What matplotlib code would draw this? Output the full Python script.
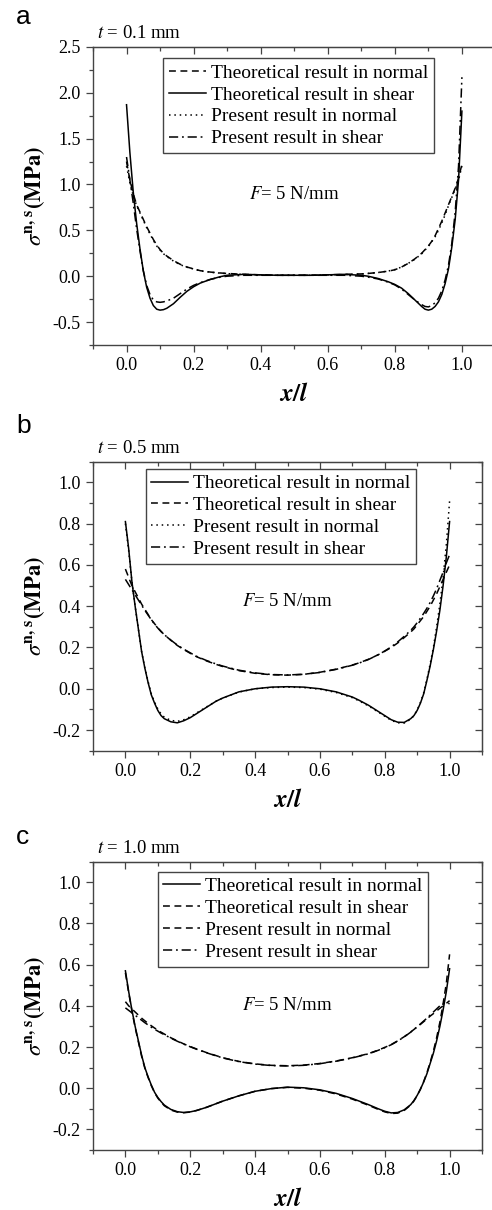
import matplotlib
matplotlib.use("Agg")
import matplotlib.pyplot as plt
from matplotlib.ticker import MultipleLocator

plt.rcParams['font.family'] = ['Liberation Serif', 'DejaVu Serif']
plt.rcParams['mathtext.fontset'] = 'stix'

# ---------------- data ----------------
x = [0.00, 0.01, 0.02, 0.03, 0.04, 0.05, 0.06, 0.07, 0.08, 0.09, 0.10, 0.11, 0.12,
     0.14, 0.16, 0.18, 0.20, 0.22, 0.25, 0.28, 0.30, 0.35, 0.40, 0.45, 0.50, 0.55,
     0.60, 0.65, 0.70, 0.72, 0.75, 0.78, 0.80, 0.82, 0.84, 0.86, 0.88, 0.89, 0.90,
     0.91, 0.92, 0.93, 0.94, 0.95, 0.96, 0.97, 0.98, 0.99, 1.00]

# Panel a (t = 0.1 mm)
a_theo_normal = [1.25, 1.05, 0.90, 0.78, 0.70, 0.62, 0.54, 0.47, 0.40, 0.34, 0.29, 0.25, 0.22,
                 0.17, 0.13, 0.10, 0.08, 0.06, 0.045, 0.035, 0.03, 0.02, 0.015, 0.01, 0.01, 0.01,
                 0.015, 0.02, 0.025, 0.03, 0.04, 0.055, 0.07, 0.10, 0.14, 0.19, 0.25, 0.29, 0.33,
                 0.38, 0.44, 0.52, 0.60, 0.69, 0.78, 0.87, 0.96, 1.07, 1.22]
a_theo_shear = [1.87, 1.35, 0.92, 0.58, 0.30, 0.06, -0.12, -0.24, -0.32, -0.36, -0.37, -0.365, -0.35,
                -0.30, -0.23, -0.165, -0.115, -0.075, -0.035, -0.005, 0.01, 0.02, 0.015, 0.01, 0.01, 0.01,
                0.015, 0.02, 0.01, 0.0, -0.025, -0.06, -0.09, -0.13, -0.19, -0.26, -0.33, -0.36, -0.37,
                -0.36, -0.33, -0.28, -0.20, -0.08, 0.08, 0.32, 0.62, 1.05, 1.80]
a_pres_normal = [1.20, 1.02, 0.88, 0.77, 0.69, 0.61, 0.53, 0.46, 0.39, 0.33, 0.285, 0.245, 0.215,
                 0.165, 0.125, 0.098, 0.078, 0.058, 0.043, 0.033, 0.028, 0.018, 0.013, 0.01, 0.01, 0.01,
                 0.013, 0.018, 0.024, 0.03, 0.04, 0.056, 0.072, 0.10, 0.14, 0.185, 0.245, 0.285, 0.325,
                 0.375, 0.43, 0.50, 0.58, 0.67, 0.77, 0.86, 0.95, 1.05, 1.20]
a_pres_shear = [1.30, 1.05, 0.80, 0.52, 0.28, 0.06, -0.10, -0.20, -0.26, -0.28, -0.285, -0.28, -0.27,
                -0.24, -0.19, -0.14, -0.10, -0.07, -0.035, -0.01, 0.0, 0.01, 0.01, 0.01, 0.01, 0.01,
                0.01, 0.01, 0.0, -0.01, -0.03, -0.065, -0.095, -0.14, -0.20, -0.26, -0.31, -0.33, -0.335,
                -0.32, -0.29, -0.24, -0.16, -0.04, 0.12, 0.36, 0.70, 1.20, 2.17]

# Panel b (t = 0.5 mm)
b_theo_normal = [0.81, 0.68, 0.52, 0.40, 0.29, 0.18, 0.10, 0.03, -0.03, -0.07, -0.105, -0.13, -0.145,
                 -0.16, -0.165, -0.155, -0.14, -0.12, -0.09, -0.06, -0.045, -0.015, 0.0, 0.008, 0.01, 0.008,
                 0.0, -0.015, -0.04, -0.055, -0.08, -0.11, -0.13, -0.15, -0.162, -0.163, -0.145, -0.13, -0.105,
                 -0.07, -0.025, 0.04, 0.11, 0.19, 0.28, 0.38, 0.50, 0.64, 0.81]
b_theo_shear = [0.58, 0.54, 0.50, 0.47, 0.44, 0.41, 0.385, 0.36, 0.335, 0.315, 0.295, 0.278, 0.262,
                0.235, 0.21, 0.19, 0.172, 0.155, 0.135, 0.118, 0.108, 0.088, 0.075, 0.068, 0.066, 0.07,
                0.08, 0.095, 0.115, 0.125, 0.143, 0.165, 0.182, 0.20, 0.222, 0.248, 0.275, 0.29, 0.31,
                0.33, 0.35, 0.375, 0.40, 0.43, 0.46, 0.495, 0.53, 0.565, 0.60]
b_pres_normal = [0.80, 0.67, 0.52, 0.40, 0.29, 0.18, 0.10, 0.035, -0.025, -0.065, -0.098, -0.122, -0.138,
                 -0.153, -0.158, -0.15, -0.136, -0.117, -0.088, -0.06, -0.045, -0.016, 0.0, 0.006, 0.008, 0.006,
                 -0.002, -0.018, -0.043, -0.058, -0.083, -0.113, -0.133, -0.153, -0.165, -0.166, -0.148, -0.13, -0.103,
                 -0.066, -0.02, 0.045, 0.12, 0.20, 0.30, 0.41, 0.54, 0.70, 0.91]
b_pres_shear = [0.53, 0.505, 0.48, 0.455, 0.43, 0.405, 0.38, 0.357, 0.334, 0.313, 0.294, 0.277, 0.262,
                0.236, 0.212, 0.192, 0.174, 0.157, 0.137, 0.12, 0.11, 0.09, 0.077, 0.069, 0.067, 0.07,
                0.079, 0.094, 0.114, 0.124, 0.142, 0.165, 0.183, 0.203, 0.227, 0.254, 0.283, 0.30, 0.32,
                0.342, 0.365, 0.39, 0.418, 0.45, 0.485, 0.525, 0.565, 0.61, 0.65]

# Panel c (t = 1.0 mm)
c_theo_normal = [0.57, 0.47, 0.38, 0.30, 0.23, 0.16, 0.10, 0.055, 0.015, -0.02, -0.045, -0.065, -0.082,
                 -0.103, -0.114, -0.118, -0.115, -0.108, -0.093, -0.075, -0.063, -0.037, -0.015, -0.002, 0.005, 0.002,
                 -0.008, -0.025, -0.05, -0.062, -0.08, -0.10, -0.112, -0.12, -0.118, -0.105, -0.08, -0.06, -0.035,
                 -0.005, 0.03, 0.07, 0.12, 0.17, 0.23, 0.30, 0.38, 0.47, 0.58]
c_theo_shear = [0.42, 0.40, 0.385, 0.37, 0.355, 0.34, 0.327, 0.315, 0.303, 0.292, 0.282, 0.272, 0.263,
                0.245, 0.23, 0.215, 0.202, 0.19, 0.173, 0.158, 0.148, 0.13, 0.118, 0.111, 0.109, 0.112,
                0.12, 0.132, 0.148, 0.156, 0.168, 0.185, 0.198, 0.212, 0.23, 0.25, 0.273, 0.285, 0.298,
                0.31, 0.323, 0.336, 0.35, 0.362, 0.375, 0.388, 0.40, 0.412, 0.425]
c_pres_normal = [0.56, 0.465, 0.375, 0.295, 0.225, 0.155, 0.097, 0.052, 0.012, -0.022, -0.048, -0.068, -0.085,
                 -0.106, -0.116, -0.119, -0.116, -0.108, -0.093, -0.075, -0.063, -0.037, -0.015, -0.002, 0.004, 0.0,
                 -0.01, -0.028, -0.053, -0.065, -0.083, -0.103, -0.115, -0.123, -0.121, -0.108, -0.082, -0.062, -0.036,
                 -0.005, 0.032, 0.075, 0.125, 0.18, 0.245, 0.32, 0.41, 0.51, 0.65]
c_pres_shear = [0.39, 0.378, 0.366, 0.354, 0.342, 0.33, 0.318, 0.307, 0.296, 0.286, 0.277, 0.268, 0.26,
                0.243, 0.228, 0.214, 0.201, 0.189, 0.172, 0.157, 0.147, 0.129, 0.117, 0.11, 0.108, 0.111,
                0.119, 0.131, 0.147, 0.155, 0.167, 0.184, 0.197, 0.211, 0.229, 0.249, 0.272, 0.285, 0.298,
                0.312, 0.326, 0.34, 0.355, 0.37, 0.385, 0.40, 0.41, 0.415, 0.41]

labels_theo_normal = "Theoretical result in normal"
labels_theo_shear = "Theoretical result in shear"
labels_pres_normal = "Present result in normal"
labels_pres_shear = "Present result in shear"

xticks = [0.0, 0.2, 0.4, 0.6, 0.8, 1.0]

# ---------------- styles ----------------
SOLID = '-'
DASH = (0, (4.5, 3))
DOT = (0, (1, 2.5))
DASHDOT = (0, (6, 2.5, 1.2, 2.5))
LW = 1.1
COL = 'black'
SPINE = '#444444'

fig = plt.figure(figsize=(4.92, 12.10), dpi=100)

panels = [
    dict(rect=[0.189, 0.7149, 0.818, 0.2463], letter='a', lety=17, t='0.1', right=False,
         ylim=(-0.75, 2.5), ymin=0.25, yticks=[-0.5, 0.0, 0.5, 1.0, 1.5, 2.0, 2.5],
         series=[(a_theo_normal, DASH, labels_theo_normal),
                 (a_theo_shear, SOLID, labels_theo_shear),
                 (a_pres_normal, DOT, labels_pres_normal),
                 (a_pres_shear, DASHDOT, labels_pres_shear)],
         leg=(0.174, 0.962), ftext=(0.5, 0.89)),
    dict(rect=[0.189, 0.3796, 0.7907, 0.2388], letter='b', lety=426, t='0.5', right=True,
         ylim=(-0.3, 1.1), ymin=0.1, yticks=[-0.2, 0.0, 0.2, 0.4, 0.6, 0.8, 1.0],
         series=[(b_theo_normal, SOLID, labels_theo_normal),
                 (b_theo_shear, DASH, labels_theo_shear),
                 (b_pres_normal, DOT, labels_pres_normal),
                 (b_pres_shear, DASHDOT, labels_pres_shear)],
         leg=(0.135, 0.975), ftext=(0.5, 0.424)),
    dict(rect=[0.189, 0.0496, 0.7907, 0.2383], letter='c', lety=837, t='1.0', right=True,
         ylim=(-0.3, 1.1), ymin=0.1, yticks=[-0.2, 0.0, 0.2, 0.4, 0.6, 0.8, 1.0],
         series=[(c_theo_normal, SOLID, labels_theo_normal),
                 (c_theo_shear, DASH, labels_theo_shear),
                 (c_pres_normal, DASH, labels_pres_normal),
                 (c_pres_shear, DASHDOT, labels_pres_shear)],
         leg=(0.166, 0.965), ftext=(0.5, 0.40)),
]

for p in panels:
    ax = fig.add_axes(p['rect'])
    for vals, ls, lab in p['series']:
        ax.plot(x, vals, linestyle=ls, color=COL, lw=LW, label=lab)
    ax.set_xlim(-0.1, 1.1)
    ax.set_ylim(*p['ylim'])
    ax.set_xticks(xticks)
    ax.xaxis.set_minor_locator(MultipleLocator(0.1))
    ax.set_yticks(p['yticks'])
    ax.yaxis.set_minor_locator(MultipleLocator(p['ymin']))
    ax.set_xticklabels([f"{v:.1f}" for v in xticks])
    ax.set_yticklabels([f"{v:.1f}" for v in p['yticks']])
    for s in ax.spines.values():
        s.set_color(SPINE)
        s.set_linewidth(1.0)
    ax.tick_params(which='major', direction='out', length=5, width=0.9, color=SPINE,
                   labelsize=13, pad=4)
    ax.tick_params(which='minor', direction='out', length=3, width=0.9, color=SPINE)

    sx = ax.secondary_xaxis('top')
    sx.set_xticks(xticks)
    sx.xaxis.set_minor_locator(MultipleLocator(0.1))
    sx.tick_params(which='major', direction='in', length=5, width=0.9, color=SPINE, labeltop=False)
    sx.tick_params(which='minor', direction='in', length=3, width=0.9, color=SPINE)
    sx.spines['top'].set_color(SPINE)
    if p['right']:
        sy = ax.secondary_yaxis('right')
        sy.set_yticks(p['yticks'])
        sy.yaxis.set_minor_locator(MultipleLocator(p['ymin']))
        sy.tick_params(which='major', direction='in', length=5, width=0.9, color=SPINE, labelright=False)
        sy.tick_params(which='minor', direction='in', length=3, width=0.9, color=SPINE)
        sy.spines['right'].set_color(SPINE)
    else:
        ax.spines['right'].set_visible(False)

    leg = ax.legend(loc='upper left', bbox_to_anchor=p['leg'], fontsize=14,
                    frameon=True, fancybox=False, edgecolor=SPINE, framealpha=1,
                    handlelength=1.9, handletextpad=0.25, labelspacing=0.22,
                    borderpad=0.3, borderaxespad=0)
    leg.get_frame().set_linewidth(1.0)

    ax.text(p['ftext'][0], p['ftext'][1], r"$F$= 5 N/mm", fontsize=13.5,
            ha='center', va='center')
    ax.text(0.01, 1.015, rf"$t$ = {p['t']} mm", transform=ax.transAxes,
            fontsize=13.5, ha='left', va='bottom')
    ax.set_xlabel(r"$\boldsymbol{x/l}$", fontsize=18, labelpad=6)
    ax.set_ylabel(r"$\sigma^{\mathbf{n,\,s}}$" + r"$\mathbf{(MPa)}$", fontsize=16.5, labelpad=4)

    fig.text(16 / 492, 1 - p['lety'] / 1210, p['letter'],
             family='Liberation Sans', fontsize=19, ha='left', va='center')

fig.savefig("out.png", dpi=100)
